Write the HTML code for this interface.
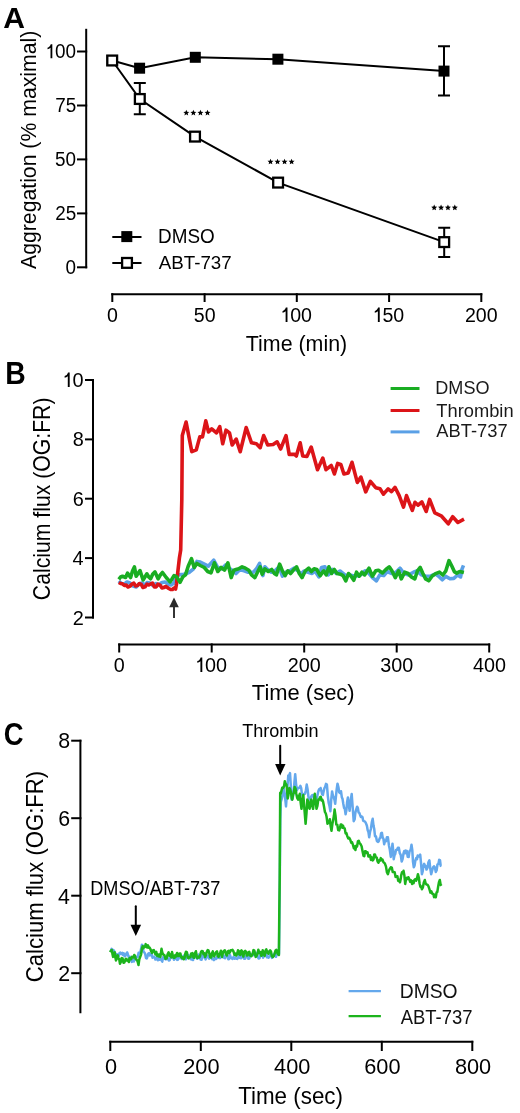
<!DOCTYPE html>
<html><head><meta charset="utf-8"><style>
html,body{margin:0;padding:0;background:#fff;overflow:hidden;}
svg{display:block;font-family:"Liberation Sans",sans-serif;will-change:transform;}
</style></head><body>
<svg width="520" height="1113" viewBox="0 0 520 1113">
<rect width="520" height="1113" fill="#fff"/>
<text transform="translate(3.33 27.95) scale(0.9939 1)" font-size="30.29" font-weight="bold" fill="#000">A</text>
<g stroke="#000" stroke-width="2" fill="none" stroke-linecap="square">
<path d="M86.2,29.8 V267.3"/>
<path d="M78,51.5 H86.2"/>
<path d="M78,105.5 H86.2"/>
<path d="M78,159.4 H86.2"/>
<path d="M78,213.4 H86.2"/>
<path d="M78,267.3 H86.2"/>
<path d="M112.3,294.2 H481.3"/>
<path d="M112.3,294.2 V301"/>
<path d="M204.6,294.2 V301"/>
<path d="M296.8,294.2 V301"/>
<path d="M389.1,294.2 V301"/>
<path d="M481.3,294.2 V301"/>
</g>
<g transform="translate(44.41 58.20) scale(0.9700 1)" fill="#000"><path transform="translate(0.00 0) scale(19.500 -19.500)" d="M0.418,0 H0.323 V0.53 C0.28,0.49 0.22,0.468 0.164,0.458 V0.535 C0.245,0.552 0.305,0.612 0.335,0.709 H0.418 Z"/><text x="10.84" y="0" font-size="19.50">00</text></g>
<g transform="translate(55.23 112.15) scale(0.9700 1)" fill="#000"><text x="0.00" y="0" font-size="19.50">75</text></g>
<g transform="translate(54.93 166.10) scale(0.9700 1)" fill="#000"><text x="0.00" y="0" font-size="19.50">50</text></g>
<g transform="translate(55.23 220.05) scale(0.9700 1)" fill="#000"><text x="0.00" y="0" font-size="19.50">25</text></g>
<g transform="translate(65.45 274.00) scale(0.9700 1)" fill="#000"><text x="0.00" y="0" font-size="19.50">0</text></g>
<g transform="translate(106.99 321.94) scale(0.9700 1)" fill="#000"><text x="0.00" y="0" font-size="20.20">0</text></g>
<g transform="translate(193.79 321.94) scale(0.9700 1)" fill="#000"><text x="0.00" y="0" font-size="20.20">50</text></g>
<g transform="translate(279.29 321.94) scale(0.9700 1)" fill="#000"><path transform="translate(0.00 0) scale(20.200 -20.200)" d="M0.418,0 H0.323 V0.53 C0.28,0.49 0.22,0.468 0.164,0.458 V0.535 C0.245,0.552 0.305,0.612 0.335,0.709 H0.418 Z"/><text x="11.23" y="0" font-size="20.20">00</text></g>
<g transform="translate(371.54 321.94) scale(0.9700 1)" fill="#000"><path transform="translate(0.00 0) scale(20.200 -20.200)" d="M0.418,0 H0.323 V0.53 C0.28,0.49 0.22,0.468 0.164,0.458 V0.535 C0.245,0.552 0.305,0.612 0.335,0.709 H0.418 Z"/><text x="11.23" y="0" font-size="20.20">50</text></g>
<g transform="translate(464.94 321.94) scale(0.9700 1)" fill="#000"><text x="0.00" y="0" font-size="20.20">200</text></g>
<text transform="translate(245.77 350.85) scale(0.9769 1)" font-size="21.93" fill="#000">Time (min)</text>
<text transform="translate(36.30 269.00) rotate(-90) scale(0.9778 1)" font-size="21.72" fill="#000">Aggregation (% maximal)</text>
<g stroke="#000" stroke-width="2" fill="none">
<path d="M112.2,60.5 L139.6,68.2 L195.3,57.3 L277.9,59.2 L444.0,71.1"/>
<path d="M112.2,60.5 L139.8,99.0 L195.0,136.6 L278.1,182.6 L444.2,242.1"/>
<path d="M139.8,83 V114.3 M133.8,83 H145.8 M133.8,114.3 H145.8"/>
<path d="M444,46.2 V95.4 M438,46.2 H450 M438,95.4 H450"/>
<path d="M444.2,227.7 V256.9 M438.2,227.7 H450.2 M438.2,256.9 H450.2"/>
</g>
<rect x="106.7" y="55.0" width="11" height="11" fill="#000"/>
<rect x="134.1" y="62.7" width="11" height="11" fill="#000"/>
<rect x="189.8" y="51.8" width="11" height="11" fill="#000"/>
<rect x="272.4" y="53.7" width="11" height="11" fill="#000"/>
<rect x="438.5" y="65.6" width="11" height="11" fill="#000"/>
<rect x="107.3" y="55.6" width="9.8" height="9.8" fill="#fff" stroke="#000" stroke-width="2.3"/>
<rect x="134.9" y="94.1" width="9.8" height="9.8" fill="#fff" stroke="#000" stroke-width="2.3"/>
<rect x="190.1" y="131.7" width="9.8" height="9.8" fill="#fff" stroke="#000" stroke-width="2.3"/>
<rect x="273.20000000000005" y="177.7" width="9.8" height="9.8" fill="#fff" stroke="#000" stroke-width="2.3"/>
<rect x="439.3" y="237.2" width="9.8" height="9.8" fill="#fff" stroke="#000" stroke-width="2.3"/>
<polygon points="186.30,109.75 187.15,111.73 189.30,111.93 187.68,113.35 188.15,115.45 186.30,114.35 184.45,115.45 184.92,113.35 183.30,111.93 185.45,111.73" fill="#000"/>
<polygon points="193.37,109.75 194.22,111.73 196.37,111.93 194.75,113.35 195.22,115.45 193.37,114.35 191.52,115.45 191.99,113.35 190.37,111.93 192.52,111.73" fill="#000"/>
<polygon points="200.44,109.75 201.29,111.73 203.44,111.93 201.82,113.35 202.29,115.45 200.44,114.35 198.59,115.45 199.06,113.35 197.44,111.93 199.59,111.73" fill="#000"/>
<polygon points="207.51,109.75 208.36,111.73 210.51,111.93 208.89,113.35 209.36,115.45 207.51,114.35 205.66,115.45 206.13,113.35 204.51,111.93 206.66,111.73" fill="#000"/>
<polygon points="270.50,158.65 271.35,160.63 273.50,160.83 271.88,162.25 272.35,164.35 270.50,163.25 268.65,164.35 269.12,162.25 267.50,160.83 269.65,160.63" fill="#000"/>
<polygon points="277.53,158.65 278.38,160.63 280.53,160.83 278.91,162.25 279.38,164.35 277.53,163.25 275.68,164.35 276.15,162.25 274.53,160.83 276.68,160.63" fill="#000"/>
<polygon points="284.56,158.65 285.41,160.63 287.56,160.83 285.94,162.25 286.41,164.35 284.56,163.25 282.71,164.35 283.18,162.25 281.56,160.83 283.71,160.63" fill="#000"/>
<polygon points="291.59,158.65 292.44,160.63 294.59,160.83 292.97,162.25 293.44,164.35 291.59,163.25 289.74,164.35 290.21,162.25 288.59,160.83 290.74,160.63" fill="#000"/>
<polygon points="434.20,204.55 435.05,206.53 437.20,206.73 435.58,208.15 436.05,210.25 434.20,209.15 432.35,210.25 432.82,208.15 431.20,206.73 433.35,206.53" fill="#000"/>
<polygon points="441.07,204.55 441.92,206.53 444.07,206.73 442.45,208.15 442.92,210.25 441.07,209.15 439.22,210.25 439.69,208.15 438.07,206.73 440.22,206.53" fill="#000"/>
<polygon points="447.94,204.55 448.79,206.53 450.94,206.73 449.32,208.15 449.79,210.25 447.94,209.15 446.09,210.25 446.56,208.15 444.94,206.73 447.09,206.53" fill="#000"/>
<polygon points="454.81,204.55 455.66,206.53 457.81,206.73 456.19,208.15 456.66,210.25 454.81,209.15 452.96,210.25 453.43,208.15 451.81,206.73 453.96,206.53" fill="#000"/>
<g stroke="#000" stroke-width="2" fill="none">
<path d="M112.3,236.9 H141.5 M112.3,263 H141.5"/>
</g>
<rect x="121.3" y="231.1" width="11" height="11" fill="#000"/>
<rect x="122.1" y="258.0" width="9.8" height="9.8" fill="#fff" stroke="#000" stroke-width="2.3"/>
<text transform="translate(158.12 242.94) scale(0.9566 1)" font-size="19.76" fill="#000">DMSO</text>
<text transform="translate(158.70 269.05) scale(0.9779 1)" font-size="19.20" fill="#000">ABT-737</text>
<text transform="translate(5.13 384.05) scale(0.9219 1)" font-size="30.72" font-weight="bold" fill="#000">B</text>
<g stroke="#000" stroke-width="2" fill="none" stroke-linecap="square">
<path d="M93.0,380.0 V617.5"/>
<path d="M86,380.0 H93.0"/>
<path d="M86,439.4 H93.0"/>
<path d="M86,498.7 H93.0"/>
<path d="M86,558.1 H93.0"/>
<path d="M86,617.5 H93.0"/>
<path d="M119.2,644.4 H489.2"/>
<path d="M119.2,644.4 V651.5"/>
<path d="M211.7,644.4 V651.5"/>
<path d="M304.2,644.4 V651.5"/>
<path d="M396.7,644.4 V651.5"/>
<path d="M489.2,644.4 V651.5"/>
</g>
<g transform="translate(61.37 386.96) scale(0.9800 1)" fill="#000"><path transform="translate(0.00 0) scale(20.300 -20.300)" d="M0.418,0 H0.323 V0.53 C0.28,0.49 0.22,0.468 0.164,0.458 V0.535 C0.245,0.552 0.305,0.612 0.335,0.709 H0.418 Z"/><text x="11.29" y="0" font-size="20.30">0</text></g>
<g transform="translate(72.74 446.34) scale(0.9800 1)" fill="#000"><text x="0.00" y="0" font-size="20.30">8</text></g>
<g transform="translate(72.74 505.72) scale(0.9800 1)" fill="#000"><text x="0.00" y="0" font-size="20.30">6</text></g>
<g transform="translate(72.43 565.26) scale(0.9800 1)" fill="#000"><text x="0.00" y="0" font-size="20.30">4</text></g>
<g transform="translate(72.74 624.64) scale(0.9800 1)" fill="#000"><text x="0.00" y="0" font-size="20.30">2</text></g>
<g transform="translate(113.83 672.01) scale(0.9700 1)" fill="#000"><text x="0.00" y="0" font-size="20.40">0</text></g>
<g transform="translate(194.02 672.01) scale(0.9700 1)" fill="#000"><path transform="translate(0.00 0) scale(20.400 -20.400)" d="M0.418,0 H0.323 V0.53 C0.28,0.49 0.22,0.468 0.164,0.458 V0.535 C0.245,0.552 0.305,0.612 0.335,0.709 H0.418 Z"/><text x="11.35" y="0" font-size="20.40">00</text></g>
<g transform="translate(287.67 672.01) scale(0.9700 1)" fill="#000"><text x="0.00" y="0" font-size="20.40">200</text></g>
<g transform="translate(380.33 672.01) scale(0.9700 1)" fill="#000"><text x="0.00" y="0" font-size="20.40">300</text></g>
<g transform="translate(472.98 672.01) scale(0.9700 1)" fill="#000"><text x="0.00" y="0" font-size="20.40">400</text></g>
<text transform="translate(251.86 699.79) scale(0.9680 1)" font-size="22.66" fill="#000">Time (sec)</text>
<text transform="translate(50.18 600.19) rotate(-90) scale(0.9148 1)" font-size="23.19" fill="#000">Calcium flux (OG:FR)</text>
<g fill="none" stroke-width="3.6" stroke-linejoin="round">
<path d="M118.8,581.0 L121.0,583.0 L124.0,584.5 L127.0,582.0 L130.0,583.0 L133.0,586.0 L136.2,586.9 L139.0,584.0 L142.0,583.0 L145.0,585.0 L147.0,582.5 L150.0,583.0 L153.0,585.5 L156.0,583.5 L159.0,585.0 L162.0,582.5 L165.0,582.0 L168.0,584.0 L171.0,585.0 L174.0,583.0 L176.0,576.0 L178.7,574.9 L184.1,574.2 L189.5,572.2 L193.5,568.8 L196.9,561.4 L200.3,562.1 L204.3,564.1 L208.3,566.2 L213.7,560.1 L217.8,567.5 L221.8,568.8 L225.8,564.8 L229.9,568.8 L233.9,571.5 L236.0,573.5 L240.0,569.5 L244.1,570.8 L248.1,572.2 L253.5,572.2 L256.9,568.2 L259.6,563.4 L262.9,575.6 L264.9,566.8 L267.6,569.5 L271.0,572.2 L275.0,570.8 L279.1,566.8 L282.4,576.2 L285.8,572.2 L289.8,570.8 L293.9,568.2 L297.9,570.8 L301.0,574.0 L304.0,571.0 L308.1,572.2 L312.1,573.5 L315.0,571.0 L318.8,576.9 L321.5,567.5 L324.9,566.8 L328.3,574.9 L332.3,569.5 L336.3,573.5 L340.0,571.0 L345.8,575.6 L349.8,574.9 L355.2,576.2 L360.6,574.9 L365.0,570.8 L369.0,573.5 L373.1,578.2 L376.4,580.9 L379.8,574.9 L383.8,575.6 L387.2,571.5 L391.9,573.5 L396.0,572.2 L400.0,568.2 L404.0,573.5 L408.7,574.9 L413.5,572.2 L416.8,570.8 L421.5,574.9 L425.6,576.2 L430.8,576.0 L435.6,574.0 L439.4,576.9 L442.3,579.8 L445.7,576.4 L450.0,578.8 L453.8,578.4 L457.7,575.0 L460.6,576.9 L462.0,569.2 L463.5,565.4" stroke="#5aa0e6"/>
<path d="M118.8,582.5 L120.6,583.5 L122.5,583.8 L124.4,585.5 L126.2,585.0 L128.0,587.0 L130.0,586.2 L132.0,584.0 L133.8,583.1 L135.6,586.0 L137.5,585.6 L139.4,583.5 L141.2,584.4 L143.0,587.5 L145.0,586.9 L147.0,584.0 L148.8,585.0 L150.6,584.0 L152.5,583.1 L154.4,587.0 L156.2,586.9 L158.0,584.0 L160.0,585.0 L162.0,588.0 L163.8,587.5 L166.0,586.5 L168.8,588.5 L170.6,589.5 L172.5,589.5 L174.0,588.0 L175.6,589.0 L176.5,584.0 L178.0,570.2 L179.4,558.0 L180.7,550.0 L181.8,500.0 L182.3,435.6 L186.1,422.1 L191.8,451.7 L196.3,449.8 L199.8,436.9 L202.5,436.9 L205.8,420.8 L208.5,432.0 L211.7,428.8 L216.5,432.9 L219.8,426.7 L222.7,443.7 L226.0,430.2 L229.5,432.9 L232.2,445.0 L236.2,439.1 L240.2,451.7 L246.2,427.5 L251.5,442.8 L256.4,443.7 L260.2,447.7 L263.7,435.6 L267.7,445.0 L273.1,444.5 L277.1,441.8 L280.6,449.0 L286.0,435.6 L289.2,454.4 L294.6,454.4 L296.3,456.0 L300.2,442.8 L302.7,456.0 L306.9,456.4 L311.2,447.1 L317.5,469.7 L322.8,458.1 L326.0,469.7 L331.3,465.5 L334.4,474.0 L337.6,463.4 L340.8,464.4 L343.9,474.0 L348.2,472.9 L352.0,462.3 L357.3,482.4 L360.9,477.1 L365.7,491.9 L370.4,481.3 L375.7,487.7 L380.0,488.8 L383.5,494.2 L388.1,488.8 L391.5,491.7 L395.0,487.3 L399.2,495.6 L403.5,507.1 L406.5,495.6 L412.3,510.4 L415.0,502.3 L418.1,505.2 L421.9,501.9 L426.2,511.5 L429.6,499.4 L434.8,512.9 L441.2,515.8 L448.3,523.8 L452.7,516.7 L457.9,522.5 L464.0,519.2" stroke="#dc1418"/>
<path d="M118.8,579.4 L120.6,577.0 L122.5,576.3 L125.6,577.5 L127.5,573.1 L130.6,577.5 L132.5,571.0 L134.4,566.9 L136.2,576.3 L140.0,570.6 L143.1,580.0 L146.9,573.8 L148.8,577.0 L150.6,578.8 L152.8,574.0 L155.0,571.9 L158.1,578.8 L160.3,575.0 L162.5,572.5 L166.2,577.5 L170.0,581.9 L172.0,578.9 L174.0,575.6 L176.7,576.9 L180.1,582.3 L182.8,576.9 L185.5,574.9 L188.2,566.2 L191.5,558.7 L194.2,567.5 L196.9,563.5 L200.3,565.5 L204.3,567.5 L207.7,571.5 L211.0,572.9 L214.4,562.8 L217.8,571.5 L221.1,567.5 L224.5,570.2 L227.9,562.8 L231.2,577.6 L233.9,570.2 L236.0,569.5 L238.7,568.8 L242.1,566.8 L245.4,568.2 L248.8,570.2 L251.5,574.9 L254.8,577.6 L257.5,572.2 L260.2,566.8 L262.2,574.2 L264.9,568.8 L268.3,571.5 L271.7,569.5 L274.4,573.5 L276.4,574.9 L279.7,564.1 L282.4,570.8 L285.1,575.6 L287.8,570.8 L290.5,573.5 L293.9,569.5 L296.6,566.8 L299.3,573.5 L302.0,577.6 L305.4,570.8 L308.7,568.2 L311.4,571.5 L314.1,568.8 L316.8,569.5 L320.2,575.6 L323.6,570.8 L326.2,574.9 L328.9,566.8 L331.6,573.5 L334.3,569.5 L337.0,573.5 L340.4,574.2 L343.1,575.6 L345.8,580.9 L348.5,573.5 L351.1,576.2 L353.8,580.3 L356.5,572.2 L359.2,576.2 L361.9,572.2 L364.6,574.9 L367.3,570.8 L369.0,568.2 L372.4,576.2 L375.8,570.8 L378.5,570.2 L382.5,572.9 L385.9,569.5 L389.2,566.8 L391.9,570.8 L395.3,577.6 L398.6,570.8 L401.3,578.9 L404.7,572.2 L408.1,573.5 L411.4,576.9 L414.8,578.9 L417.5,570.8 L420.2,567.5 L422.9,573.5 L425.6,578.9 L428.8,580.8 L432.2,576.0 L435.6,573.6 L439.4,572.1 L442.8,575.0 L445.7,571.2 L449.0,560.6 L451.9,566.3 L454.3,571.6 L456.7,573.1 L459.6,571.6 L463.9,572.6" stroke="#19ad22"/>
<path d="M390.6,388.5 H419.5" stroke="#19ad22" stroke-width="3"/>
<path d="M390.6,410.5 H419.5" stroke="#dc1418" stroke-width="3"/>
<path d="M390.6,431.9 H419.5" stroke="#5aa0e6" stroke-width="3"/>
</g>
<text transform="translate(435.29 394.16) scale(0.9837 1)" font-size="18.37" fill="#1a1a1a">DMSO</text>
<text transform="translate(436.31 416.76) scale(0.9890 1)" font-size="18.53" fill="#1a1a1a">Thrombin</text>
<text transform="translate(436.30 437.27) scale(1.0137 1)" font-size="18.09" fill="#1a1a1a">ABT-737</text>
<path d="M174,618 V606" stroke="#2a2a2a" stroke-width="1.9" fill="none"/>
<path d="M169.2,607.3 L174,597.6 L178.8,607.3 Z" fill="#2a2a2a"/>
<text transform="translate(3.74 744.77) scale(0.8947 1)" font-size="30.61" font-weight="bold" fill="#000">C</text>
<g stroke="#000" stroke-width="2" fill="none" stroke-linecap="square">
<path d="M80.4,740.7 V1012.2"/>
<path d="M72.2,740.7 H80.4"/>
<path d="M72.2,818.2 H80.4"/>
<path d="M72.2,895.7 H80.4"/>
<path d="M72.2,973.2 H80.4"/>
<path d="M110.3,1041.8 H472.3"/>
<path d="M110.3,1041.8 V1050"/>
<path d="M200.8,1041.8 V1050"/>
<path d="M291.3,1041.8 V1050"/>
<path d="M381.8,1041.8 V1050"/>
<path d="M472.3,1041.8 V1050"/>
</g>
<g transform="translate(58.28 748.43) scale(0.9500 1)" fill="#000"><text x="0.00" y="0" font-size="22.50">8</text></g>
<g transform="translate(58.28 825.93) scale(0.9500 1)" fill="#000"><text x="0.00" y="0" font-size="22.50">6</text></g>
<g transform="translate(57.94 903.61) scale(0.9500 1)" fill="#000"><text x="0.00" y="0" font-size="22.50">4</text></g>
<g transform="translate(58.28 981.11) scale(0.9500 1)" fill="#000"><text x="0.00" y="0" font-size="22.50">2</text></g>
<g transform="translate(104.98 1074.07) scale(0.9500 1)" fill="#000"><text x="0.00" y="0" font-size="22.90">0</text></g>
<g transform="translate(183.21 1074.07) scale(0.9500 1)" fill="#000"><text x="0.00" y="0" font-size="22.90">200</text></g>
<g transform="translate(274.05 1074.07) scale(0.9500 1)" fill="#000"><text x="0.00" y="0" font-size="22.90">400</text></g>
<g transform="translate(364.21 1074.07) scale(0.9500 1)" fill="#000"><text x="0.00" y="0" font-size="22.90">600</text></g>
<g transform="translate(454.88 1074.07) scale(0.9500 1)" fill="#000"><text x="0.00" y="0" font-size="22.90">800</text></g>
<text transform="translate(238.15 1104.38) scale(0.9657 1)" font-size="23.19" fill="#000">Time (sec)</text>
<text transform="translate(43.28 982.24) rotate(-90) scale(0.9544 1)" font-size="23.19" fill="#000">Calcium flux (OG:FR)</text>
<g fill="none" stroke-width="2.5" stroke-linejoin="round">
<path d="M110.8,951.2 L111.6,948.9 L112.3,952.0 L113.1,950.0 L113.9,950.6 L114.6,952.2 L115.4,954.6 L116.2,956.2 L116.9,954.1 L117.7,955.8 L118.6,956.2 L119.5,953.0 L120.3,952.6 L121.2,954.0 L122.3,952.9 L123.1,955.0 L123.8,953.3 L124.6,956.3 L125.5,955.7 L126.4,953.5 L127.2,952.4 L128.1,955.2 L129.1,958.2 L130.0,956.7 L131.0,959.8 L131.9,961.9 L132.9,959.4 L133.8,961.5 L134.8,958.6 L135.7,959.1 L136.7,956.9 L137.7,957.1 L138.6,952.7 L139.6,953.5 L140.4,952.2 L141.1,948.7 L141.9,944.8 L142.7,945.5 L143.4,951.5 L144.2,952.3 L145.1,953.6 L146.0,958.1 L146.8,958.5 L147.5,956.3 L148.3,953.5 L149.1,953.1 L149.8,955.5 L150.6,954.6 L151.6,953.5 L152.5,957.7 L153.5,956.9 L154.4,956.7 L155.4,959.5 L156.3,959.2 L157.1,957.6 L157.9,960.2 L158.7,958.1 L159.6,959.7 L160.6,958.8 L161.5,960.4 L162.3,961.6 L163.0,957.2 L163.8,958.1 L164.8,958.8 L165.9,959.4 L166.9,957.3 L167.9,958.6 L168.8,960.5 L169.7,960.1 L170.6,956.4 L171.5,955.1 L172.3,957.6 L173.1,957.4 L173.9,959.7 L174.7,959.0 L175.5,955.7 L176.3,955.3 L177.1,959.9 L177.8,959.7 L178.8,958.2 L179.7,955.4 L180.6,955.7 L181.6,959.0 L182.5,958.6 L183.5,955.9 L184.5,955.4 L185.2,956.8 L185.9,959.3 L186.8,956.1 L187.8,954.7 L188.8,955.6 L189.7,956.1 L190.7,959.2 L191.4,958.1 L192.2,959.8 L193.1,960.0 L194.0,955.5 L194.9,954.4 L195.7,957.2 L196.6,956.5 L197.4,958.8 L198.0,958.1 L198.6,954.6 L199.6,955.5 L200.6,959.6 L201.6,959.8 L202.1,955.8 L202.7,954.3 L203.7,957.1 L204.6,956.8 L205.6,959.4 L206.6,955.3 L207.5,957.2 L208.4,955.9 L209.2,958.6 L209.9,957.2 L210.6,954.6 L211.4,954.7 L212.2,959.3 L213.0,958.7 L214.0,960.1 L214.9,958.0 L215.9,959.0 L216.8,958.3 L217.7,955.0 L218.5,955.0 L219.2,957.9 L220.1,958.0 L220.9,956.8 L221.8,953.8 L222.5,957.0 L223.3,955.4 L224.0,957.7 L225.0,958.3 L226.0,955.0 L226.7,954.5 L227.5,956.5 L228.3,959.2 L229.1,959.0 L229.9,955.0 L230.8,957.4 L231.7,958.5 L232.6,959.0 L233.6,956.8 L234.6,958.6 L235.5,957.6 L236.4,958.7 L237.2,958.9 L238.1,957.7 L239.0,954.9 L240.0,958.1 L241.0,958.2 L241.6,957.7 L242.2,954.4 L243.2,955.4 L244.3,958.8 L245.1,958.8 L246.0,957.0 L246.9,954.6 L247.6,955.1 L248.3,958.8 L249.3,958.5 L250.3,954.1 L251.3,954.4 L252.1,954.9 L252.9,953.4 L253.8,955.2 L254.7,954.5 L255.7,952.5 L256.6,954.2 L257.6,956.6 L258.6,958.5 L259.7,958.1 L260.3,954.6 L260.9,953.0 L262.0,953.9 L263.1,957.7 L264.1,954.7 L265.1,954.0 L265.9,953.1 L266.8,957.2 L267.6,956.6 L268.5,957.7 L269.4,956.5 L270.3,953.9 L271.1,954.4 L272.0,957.9 L272.9,956.6 L273.9,953.9 L274.9,953.5 L276.0,956.8 L277.0,953.3 L278.0,953.7 L279.0,954.0 L279.6,900.0 L280.3,820.0 L280.8,801.9 L281.8,798.7 L282.7,794.1 L283.7,788.0 L284.5,793.5 L285.2,798.5 L286.0,806.5 L288.3,775.4 L289.1,775.4 L290.0,773.1 L291.7,799.6 L292.6,798.4 L293.5,793.8 L294.4,782.6 L295.2,774.2 L296.0,783.3 L296.9,790.4 L297.8,788.1 L298.7,788.0 L299.5,787.7 L300.4,785.8 L301.2,788.2 L301.9,793.7 L302.7,796.2 L303.5,794.2 L304.2,793.9 L305.0,793.8 L305.9,790.2 L306.7,784.6 L307.6,789.3 L308.5,797.3 L309.4,799.1 L310.2,799.6 L311.2,796.4 L312.1,795.2 L313.1,795.0 L313.9,798.4 L314.6,796.8 L315.4,799.6 L316.4,798.8 L317.3,796.1 L318.3,791.5 L319.1,789.3 L319.8,790.0 L320.6,788.0 L321.4,791.0 L322.1,794.1 L322.9,795.0 L323.7,791.1 L324.4,788.2 L325.2,786.9 L326.0,783.9 L326.9,784.6 L327.8,795.8 L328.7,803.0 L329.5,806.0 L330.4,811.2 L331.2,800.0 L332.1,791.5 L333.0,796.0 L333.8,797.3 L334.5,799.8 L335.2,803.8 L336.0,795.8 L336.7,789.1 L337.5,783.7 L338.4,787.0 L339.2,792.3 L340.1,793.1 L341.0,791.2 L341.8,797.2 L342.5,798.8 L343.3,803.8 L344.1,807.9 L344.8,808.8 L345.6,814.2 L346.4,810.2 L347.1,802.3 L347.9,797.5 L348.8,804.9 L349.6,810.8 L350.6,801.0 L351.7,794.0 L353.7,821.2 L354.6,819.5 L355.4,812.5 L356.2,809.6 L357.1,806.7 L357.9,808.2 L358.6,812.5 L359.4,813.1 L360.2,815.3 L360.9,816.9 L361.7,816.5 L362.5,817.2 L363.2,820.7 L364.0,821.2 L365.0,821.6 L365.9,823.1 L366.9,825.8 L367.7,830.3 L368.4,831.9 L369.2,837.3 L370.1,831.6 L370.9,829.0 L371.8,822.3 L372.7,818.8 L373.5,825.6 L374.2,828.7 L375.0,836.2 L376.0,836.5 L376.9,841.0 L377.9,841.9 L378.8,841.2 L379.6,838.5 L380.4,837.8 L381.1,833.3 L381.9,832.7 L382.7,837.6 L383.4,838.7 L384.2,844.2 L385.0,840.8 L386.0,841.1 L386.9,837.2 L387.9,837.3 L388.9,845.2 L389.8,849.5 L390.8,856.9 L391.6,852.1 L392.5,843.7 L393.1,849.7 L393.7,859.2 L394.5,855.2 L395.2,854.0 L396.0,850.0 L396.9,850.1 L397.9,847.8 L398.8,847.7 L399.8,853.2 L400.7,854.9 L401.7,861.5 L402.6,859.1 L403.5,853.5 L404.3,851.0 L405.0,853.3 L405.8,850.6 L406.8,850.9 L407.7,856.7 L408.7,856.9 L409.6,850.9 L410.6,850.1 L411.5,844.8 L412.3,850.3 L413.0,861.8 L413.8,867.3 L414.6,865.4 L415.4,860.4 L416.2,858.1 L417.0,859.3 L417.7,855.5 L418.5,855.8 L419.4,856.7 L420.2,854.6 L421.0,862.8 L421.9,874.2 L422.7,871.4 L423.4,866.0 L424.2,863.8 L425.0,866.6 L425.7,866.1 L426.5,869.6 L427.5,867.9 L428.4,862.3 L429.4,860.4 L430.3,868.9 L431.2,874.2 L432.1,870.7 L433.1,867.3 L434.0,866.2 L434.9,867.4 L435.8,871.9 L436.6,870.5 L437.5,864.3 L438.4,863.9 L439.2,859.8 L440.0,860.1 L440.7,865.9 L441.5,866.2" stroke="#64a8ec"/>
<path d="M110.2,952.3 L111.1,950.3 L111.9,950.0 L112.5,954.2 L113.1,956.9 L113.9,953.5 L114.8,952.3 L115.4,957.7 L116.0,960.4 L116.8,956.6 L117.7,955.2 L118.5,958.8 L119.2,959.2 L120.0,963.8 L120.8,961.9 L121.7,958.1 L122.6,958.5 L123.5,962.7 L124.3,962.5 L125.0,960.7 L125.8,958.7 L126.6,960.5 L127.3,959.5 L128.1,961.0 L128.9,962.0 L129.6,958.1 L130.4,958.7 L131.2,959.2 L131.9,956.8 L132.7,956.9 L133.5,957.4 L134.2,955.0 L135.0,955.8 L135.8,959.2 L136.7,959.8 L137.6,961.4 L138.5,965.0 L139.3,959.4 L140.2,956.9 L141.1,954.3 L141.9,948.8 L142.7,946.2 L143.4,948.3 L144.2,946.5 L145.0,946.9 L145.7,944.1 L146.5,945.4 L147.3,947.5 L148.0,945.4 L148.8,947.7 L149.6,947.5 L150.4,949.0 L151.2,951.2 L152.0,952.9 L152.9,950.5 L153.8,950.1 L154.6,952.3 L155.5,954.4 L156.3,951.9 L157.2,956.0 L158.1,954.6 L158.9,956.4 L159.6,954.6 L160.4,956.9 L161.5,948.8 L162.4,952.9 L163.3,954.6 L164.4,955.1 L165.5,958.8 L166.6,958.4 L167.6,954.4 L168.6,952.3 L169.5,955.8 L170.4,954.5 L171.3,957.4 L172.0,952.1 L172.9,955.9 L173.7,957.7 L174.5,957.8 L175.4,955.0 L176.2,956.4 L177.1,952.9 L177.9,956.1 L178.7,956.1 L179.6,953.5 L180.4,953.5 L181.1,957.0 L181.8,958.0 L182.7,957.1 L183.6,959.3 L184.5,958.3 L185.3,953.6 L186.0,951.7 L186.9,952.3 L187.7,957.5 L188.6,958.3 L189.6,957.1 L190.5,957.3 L191.1,953.7 L191.7,953.4 L192.5,953.1 L193.4,957.5 L194.2,957.8 L195.1,953.0 L195.9,951.2 L196.6,955.3 L197.3,958.1 L198.2,956.6 L199.1,957.5 L200.0,956.2 L200.8,952.4 L201.7,951.0 L202.7,951.2 L203.5,954.3 L204.3,953.3 L205.1,957.1 L206.0,955.1 L206.9,951.5 L207.7,950.0 L208.5,950.6 L209.4,953.7 L210.2,957.2 L211.1,957.6 L212.0,953.2 L212.8,951.4 L213.5,954.7 L214.2,956.4 L215.1,953.8 L216.1,952.2 L217.0,951.3 L217.8,956.0 L218.6,956.8 L219.4,954.0 L220.1,953.4 L220.9,950.7 L222.0,956.9 L222.9,952.7 L223.8,950.9 L224.8,950.2 L225.8,953.9 L226.9,955.4 L227.8,951.4 L228.7,950.9 L229.3,953.1 L230.0,952.0 L230.7,950.2 L231.4,950.3 L232.5,949.8 L233.5,951.5 L234.5,954.8 L235.4,953.6 L236.2,955.6 L237.1,954.3 L238.0,950.3 L238.8,951.2 L239.5,954.4 L240.3,955.0 L240.9,951.1 L241.5,950.4 L242.4,952.3 L243.4,956.6 L244.3,951.7 L245.2,950.8 L246.0,952.0 L246.8,955.5 L247.7,955.2 L248.5,952.2 L249.3,951.8 L250.4,955.9 L251.5,956.2 L252.5,954.4 L253.5,950.1 L254.3,950.6 L255.1,954.4 L255.7,956.9 L256.3,956.3 L257.3,954.7 L258.3,949.7 L259.3,953.0 L260.3,952.0 L261.4,955.8 L262.0,954.7 L262.7,950.2 L263.7,954.2 L264.7,955.9 L265.5,950.7 L266.3,949.3 L267.3,952.4 L268.4,953.8 L269.2,951.3 L270.1,950.4 L271.0,951.5 L271.8,956.2 L272.8,957.2 L273.7,956.2 L274.6,953.9 L275.5,950.5 L276.4,949.9 L277.2,952.7 L278.0,954.3 L278.9,955.0 L279.3,911.0 L279.7,880.0 L280.2,792.7 L280.8,793.6 L281.3,791.5 L282.2,787.8 L283.1,788.0 L284.0,786.4 L284.8,781.2 L285.6,783.8 L286.5,784.6 L287.1,790.5 L287.7,798.5 L288.5,794.7 L289.4,788.0 L290.3,789.7 L291.2,793.8 L291.8,798.6 L292.3,799.6 L293.1,794.1 L293.8,793.0 L294.6,786.9 L295.5,788.5 L296.3,793.8 L297.2,798.0 L298.1,799.6 L299.0,796.1 L299.8,793.8 L300.6,802.2 L301.5,808.8 L302.4,800.2 L303.3,795.0 L305.6,823.8 L306.5,813.0 L307.3,799.6 L308.1,801.3 L308.8,807.1 L309.6,808.8 L310.5,802.5 L311.3,799.6 L312.2,805.6 L313.1,808.8 L314.0,800.3 L314.8,793.8 L315.6,800.0 L316.5,808.8 L317.4,805.9 L318.3,799.6 L319.1,799.7 L320.0,797.3 L320.8,796.8 L321.5,800.4 L322.3,799.6 L323.1,801.7 L324.0,806.5 L324.9,811.9 L325.8,813.5 L326.6,816.8 L327.5,823.8 L328.3,821.3 L329.0,822.7 L329.8,819.2 L330.6,825.8 L331.5,830.8 L332.4,823.8 L333.3,819.2 L334.0,815.3 L334.6,809.6 L335.5,815.6 L336.3,824.6 L337.3,824.7 L338.2,830.1 L339.2,830.4 L340.0,827.7 L340.7,824.6 L341.5,824.6 L342.3,827.7 L343.0,825.7 L343.8,828.1 L344.7,828.4 L345.6,833.4 L346.4,833.1 L347.3,836.2 L348.3,838.4 L349.2,837.8 L350.2,839.6 L351.2,842.7 L352.1,842.4 L353.1,845.4 L353.9,848.3 L354.6,846.5 L355.4,850.0 L356.2,845.7 L357.1,846.4 L357.9,841.4 L358.8,840.8 L359.7,843.3 L360.6,844.2 L361.6,846.2 L362.5,851.0 L363.5,855.8 L364.3,856.2 L365.0,851.2 L365.8,851.2 L366.6,853.0 L367.5,852.3 L368.4,856.6 L369.2,855.8 L370.1,855.2 L370.9,859.9 L371.8,857.4 L372.7,860.4 L373.5,859.5 L374.2,854.6 L375.0,854.6 L375.9,857.4 L376.8,857.7 L377.6,861.5 L378.5,862.7 L379.3,860.3 L380.0,860.7 L380.8,858.1 L381.6,860.3 L382.5,859.6 L383.4,862.2 L384.2,862.7 L385.0,863.8 L386.0,866.6 L386.9,872.1 L387.9,874.2 L388.9,870.6 L389.8,868.9 L390.8,867.3 L391.8,867.6 L392.7,872.1 L393.7,871.9 L394.6,872.1 L395.6,876.9 L396.5,876.5 L397.4,876.2 L398.2,880.9 L399.1,879.8 L400.0,882.3 L400.6,879.6 L401.2,875.4 L402.0,872.2 L402.7,873.2 L403.5,870.8 L404.4,875.6 L405.2,884.0 L406.0,879.3 L406.9,877.7 L407.7,879.0 L408.4,877.2 L409.2,878.8 L410.2,881.8 L411.1,880.3 L412.1,884.0 L412.9,881.3 L413.6,883.3 L414.4,880.0 L415.3,879.2 L416.2,880.6 L417.0,878.5 L417.9,874.2 L418.8,877.5 L419.6,883.5 L420.4,886.7 L421.1,886.3 L421.9,889.2 L422.9,887.3 L423.8,882.4 L424.8,880.0 L425.6,883.2 L426.5,884.6 L427.5,884.8 L428.4,886.1 L429.4,889.2 L430.4,892.6 L431.3,891.2 L432.3,893.8 L433.2,893.9 L434.1,897.1 L434.9,894.7 L435.8,897.3 L436.6,892.4 L437.3,892.1 L438.1,886.9 L439.0,882.1 L439.8,880.0 L440.6,884.7 L441.5,885.8" stroke="#1cb41c"/>
<path d="M348.6,991.2 H380.9" stroke="#64a8ec" stroke-width="2.2"/>
<path d="M348.6,1016.2 H380.9" stroke="#1cb41c" stroke-width="2.2"/>
</g>
<text transform="translate(399.69 997.85) scale(0.9988 1)" font-size="19.34" fill="#111">DMSO</text>
<text transform="translate(400.70 1023.74) scale(0.9216 1)" font-size="20.03" fill="#111">ABT-737</text>
<text transform="translate(90.28 895.35) scale(0.9383 1)" font-size="19.33" fill="#000">DMSO/ABT-737</text>
<text transform="translate(242.22 736.57) scale(1.0111 1)" font-size="17.87" fill="#000">Thrombin</text>
<path d="M135.8,906.3 V926" stroke="#000" stroke-width="2" stroke-linecap="round" fill="none"/>
<path d="M130.5,924.8 L135.8,936 L141.1,924.8 Z" fill="#000"/>
<path d="M280.2,745.8 V765" stroke="#000" stroke-width="2" stroke-linecap="round" fill="none"/>
<path d="M275.1,764 L280.2,775.6 L285.5,764 Z" fill="#000"/>
</svg>
</body></html>
